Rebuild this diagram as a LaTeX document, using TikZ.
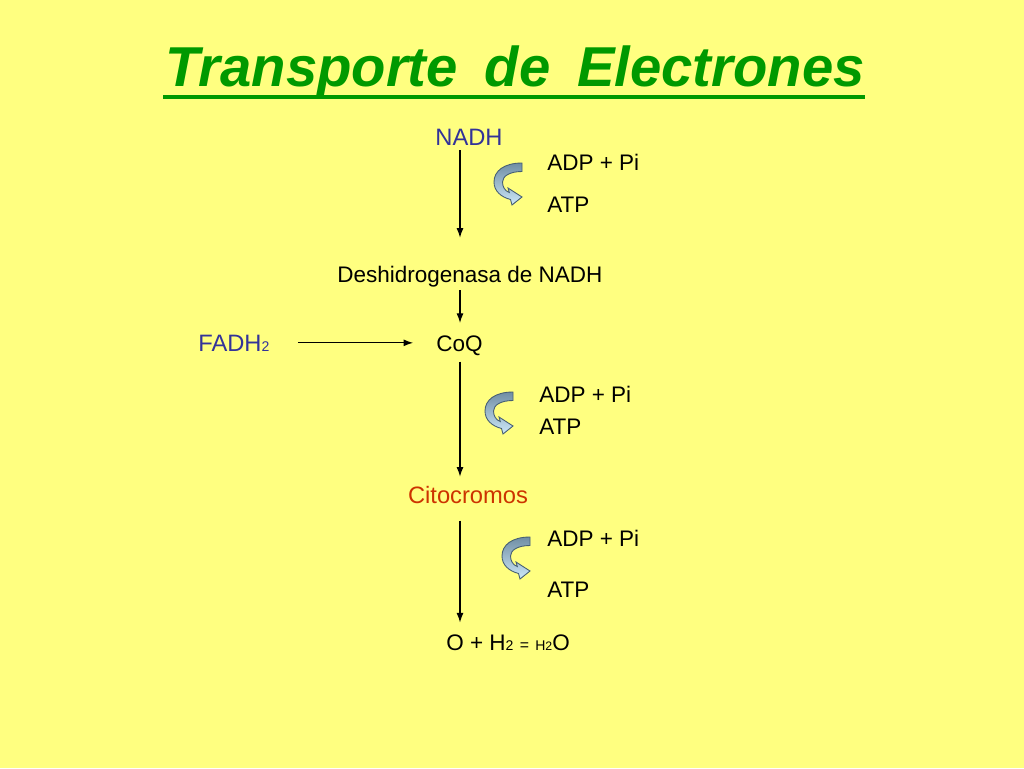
\documentclass[tikz,border=0pt]{standalone}
\usepackage{fontspec}
\setmainfont{Liberation Sans}
\usetikzlibrary{arrows.meta}
\definecolor{slide}{RGB}{255,255,128}
\definecolor{titlegreen}{RGB}{0,153,0}
\definecolor{nadhblue}{RGB}{51,51,153}
\definecolor{citored}{RGB}{204,51,0}
\definecolor{bandtop}{RGB}{112,142,164}
\definecolor{bandbot}{RGB}{205,232,248}
\definecolor{bandline}{RGB}{70,95,115}

\begin{document}
\begin{tikzpicture}[>={Latex[length=5.5pt,width=4pt]}, x=0.02cm, y=-0.02cm]
    % Styles
    \tikzstyle{comic} = [inner sep=0, font=\fontsize{12.8}{15}\selectfont]
    \tikzstyle{arial} = [inner sep=0, font=\fontsize{13.5}{16}\selectfont]
    \tikzstyle{flow} = [->, line width=0.7pt]
    \tikzset{atpcurve/.pic={
        \path[top color=bandtop, bottom color=bandbot, draw=bandline, line width=0.5pt]
            (28,0) .. controls (10,0) and (0,8) .. (0,19)
            .. controls (0,28) and (7,34) .. (16.5,36.5) -- (18,42) -- (28,34) -- (14,25) -- (15.3,29.5)
            .. controls (11,28) and (8.5,24) .. (8.5,19)
            .. controls (8.5,13) and (16,8.5) .. (28,8.5) -- cycle;
    }}

    % Slide
    \fill[slide] (0,0) rectangle (1024,768);
    \node[anchor=base, inner sep=0, text=titlegreen, font=\fontsize{32}{38}\selectfont\bfseries\itshape] (title) at (515,86) {Transporte\hspace{0.2em} de\hspace{0.2em} Electrones};
    \draw[titlegreen, line width=2.3pt] (163,97) -- (865,97);
    \coordinate (axis) at (460,0);

    % Nodes
    \node[arial, anchor=base, text=nadhblue] (nadh) at (469,145) {NADH};
    \node[comic, anchor=base west] (adp1) at (547,170) {ADP + Pi};
    \node[comic, anchor=base west] (atp1) at (547,212) {ATP};
    \node[comic, anchor=base] (deshid) at (470,282) {Deshidrogenasa de NADH};
    \node[arial, anchor=base west, text=nadhblue] (fadh) at (198,351) {FADH{\footnotesize 2}};
    \node[comic, anchor=base west] (coq) at (436,351) {CoQ};
    \node[comic, anchor=base west] (adp2) at (539,402) {ADP + Pi};
    \node[comic, anchor=base west] (atp2) at (539,434) {ATP};
    \node[arial, anchor=base, text=citored] (citoc) at (468,503) {Citocromos};
    \node[comic, anchor=base west] (adp3) at (547,546) {ADP + Pi};
    \node[comic, anchor=base west] (atp3) at (547,597) {ATP};
    \node[comic, anchor=base west] (water) at (446,650) {O + H{\footnotesize 2} {\small =} {\footnotesize H{\scriptsize 2}}O};

    % Arrows
    \draw[flow, shorten <=2.8pt, shorten >=15.7pt] (nadh.south -| axis) -- (deshid.north -| axis);
    \draw[flow, shorten <=1.9pt, shorten >=6.8pt] (deshid.south -| axis) -- (coq.north -| axis);
    \draw[flow, shorten <=3.4pt, shorten >=5pt] (coq.south -| axis) -- (citoc.north -| axis);
    \draw[flow, shorten <=9.7pt, shorten >=6.5pt] (citoc.south -| axis) -- (water.north -| axis);
    \draw[flow, shorten <=16pt, shorten >=13pt] (fadh.east) -- (fadh.east -| coq.west);

    % ATP synthesis
    \pic at (494,163) {atpcurve};
    \pic at (485,392) {atpcurve};
    \pic at (502,537) {atpcurve};

\end{tikzpicture}
\end{document}
